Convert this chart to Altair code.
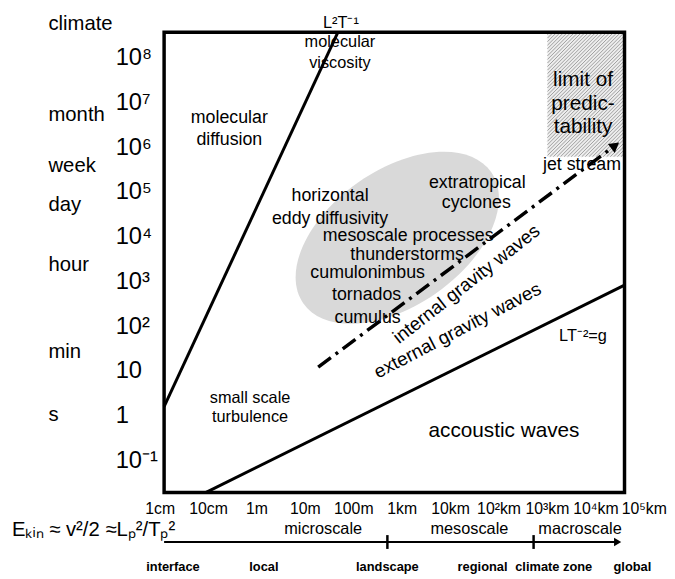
import altair as alt
import pandas as pd

FONT = "Liberation Sans"

# ---------------- data (log10 of length in m, log10 of time in s) ----------------
L_DOMAIN = [-1.918, 7.592]
T_DOMAIN = [-1.706, 8.581]

y_tick_logT = [-1, 0, 1, 2, 3, 4, 5, 6, 7, 8]
y_tick_text = ["10⁻¹", "1", "10", "10²", "10³", "10⁴", "10⁵", "10⁶", "10⁷", "10⁸"]
Y_TICK_L = -2.918

time_names = ["climate", "month", "week", "day", "hour", "min", "s"]
time_logT = [8.757, 6.726, 5.600, 4.717, 3.371, 1.428, 0.015]
TIME_NAME_L = -4.306

x_tick_logL = [-2, -1, 0, 1, 2, 3, 4, 5, 6, 7, 8]
x_tick_text = ["1cm", "10cm", "1m", "10m", "100m", "1km", "10km",
               "10²km", "10³km", "10⁴km", "10⁵km"]
X_TICK_T = -2.082

scale_names = ["microscale", "mesoscale", "macroscale"]
scale_logL = [1.367, 4.388, 6.673]
SCALE_T = -2.523

domain_names = ["interface", "local", "landscape", "regional", "climate zone", "global"]
domain_logL = [-1.735, 0.143, 2.694, 4.66, 6.13, 7.755]
DOMAIN_T = -3.362

axis_arrow_L = [-1.918, 7.45]
AXIS_ARROW_T = -2.810
sep_tick_L = [2.694, 5.714]
sep_tick_T = [-2.656, -2.965]

visc_L = [-1.918, 1.673]
visc_T = [0.214, 8.581]
grav_L = [-1.061, 7.592]
grav_T = [-1.706, 2.929]
jet_L = [1.265, 7.36]
jet_T = [1.097, 6.02]
jet_tip = [7.40, 6.05]

ellipse_L = [2.898]
ellipse_T = [3.989]

limit_L = [6.0, 7.592]
limit_T = [5.799, 8.581]

formula_text = ["Eₖᵢₙ ≈ v²/2 ≈Lₚ²/Tₚ²"]
formula_L = [-5.061]
formula_T = [-2.545]

ann_big_text = ["molecular", "diffusion", "horizontal", "eddy diffusivity",
                "extratropical", "cyclones", "mesoscale processes", "thunderstorms",
                "cumulonimbus", "tornados", "cumulus", "jet stream"]
ann_big_L = [-0.571, -0.571, 1.510, 1.510, 4.551, 4.531, 3.122, 3.102,
             2.286, 2.265, 2.286, 6.714]
ann_big_T = [6.660, 6.174, 4.916, 4.408, 5.203, 4.762, 4.033, 3.592,
             3.194, 2.709, 2.201, 5.623]

ann_small_text = ["L²T⁻¹", "molecular", "viscosity", "small scale", "turbulence", "LT⁻²=g"]
ann_small_L = [1.735, 1.714, 1.714, -0.143, -0.143, 6.735]
ann_small_T = [8.779, 8.360, 7.896, 0.413, -0.029, 1.781]

ann_large_text = ["limit of", "predic-", "tability", "accoustic waves"]
ann_large_L = [6.735, 6.735, 6.735, 5.102]
ann_large_T = [7.521, 6.969, 6.461, -0.338]

internal_text = ["internal gravity waves"]
internal_L = [4.327]
internal_T = [2.951]
external_text = ["external gravity waves"]
external_L = [4.143]
external_T = [1.914]

# ---------------- chart ----------------
W, H = 466, 466
xs = alt.Scale(domain=L_DOMAIN, nice=False, zero=False)
ys = alt.Scale(domain=T_DOMAIN, nice=False, zero=False)
X = alt.X("L:Q", scale=xs, axis=None)
Y = alt.Y("T:Q", scale=ys, axis=None)


def df(**kw):
    return pd.DataFrame(kw)


def texts(frame, size, align="center", angle=0, weight="normal", color="black"):
    kw = dict(fontSize=size, align=align, baseline="middle", font=FONT,
              fontWeight=weight, color=color)
    if angle:
        kw["angle"] = angle
    return alt.Chart(frame).mark_text(**kw).encode(x=X, y=Y, text="t:N")


# hatch pattern for the "limit of predictability" box
px_L = W / (L_DOMAIN[1] - L_DOMAIN[0])
px_T = H / (T_DOMAIN[1] - T_DOMAIN[0])
bw = (limit_L[1] - limit_L[0]) * px_L
bh = (limit_T[1] - limit_T[0]) * px_T
rows = []
c = -bw
while c < bh:
    u0 = max(0.0, -c)
    u1 = min(bw, bh - c)
    if u1 > u0:
        rows.append(dict(L=limit_L[0] + u0 / px_L, T=limit_T[0] + (u0 + c) / px_T,
                         L2=limit_L[0] + u1 / px_L, T2=limit_T[0] + (u1 + c) / px_T))
    c += 3.6
hatch_df = pd.DataFrame(rows)

limit_rect = alt.Chart(df(L=[limit_L[0]], L2=[limit_L[1]], T=[limit_T[0]], T2=[limit_T[1]])).mark_rect(
    color="#ededed").encode(x=X, x2="L2:Q", y=Y, y2="T2:Q")
hatch = alt.Chart(hatch_df).mark_rule(color="#8a8a8a", strokeWidth=0.8).encode(
    x=X, y=Y, x2="L2:Q", y2="T2:Q")

k = 0.5523
r = 68 / 115
kr = k * r
ell_path = (f"M -1 0 C -1 {-kr:.4f} {-k} {-r:.4f} 0 {-r:.4f} "
            f"C {k} {-r:.4f} 1 {-kr:.4f} 1 0 "
            f"C 1 {kr:.4f} {k} {r:.4f} 0 {r:.4f} "
            f"C {-k} {r:.4f} -1 {kr:.4f} -1 0 Z")
ellipse = alt.Chart(df(L=ellipse_L, T=ellipse_T)).mark_point(
    shape=ell_path, filled=True, color="#d9d9d9", opacity=1, size=232 * 232,
    angle=325, strokeWidth=0).encode(x=X, y=Y)

visc = alt.Chart(df(L=visc_L, T=visc_T)).mark_line(color="black", strokeWidth=3).encode(x=X, y=Y)
grav = alt.Chart(df(L=grav_L, T=grav_T)).mark_line(color="black", strokeWidth=3).encode(x=X, y=Y)
jet = alt.Chart(df(L=jet_L, T=jet_T)).mark_line(
    color="black", strokeWidth=3.5, strokeDash=[16, 6, 3, 6], strokeCap="butt").encode(x=X, y=Y)
jet_head = alt.Chart(df(L=[jet_tip[0]], T=[jet_tip[1]])).mark_point(
    shape="triangle-up", filled=True, color="black", opacity=1, size=130, angle=53).encode(x=X, y=Y)

frame = alt.Chart(df(L=[L_DOMAIN[0]], L2=[L_DOMAIN[1]], T=[T_DOMAIN[0]], T2=[T_DOMAIN[1]])).mark_rect(
    filled=False, stroke="black", strokeWidth=3.5).encode(x=X, x2="L2:Q", y=Y, y2="T2:Q")

axis_arrow = alt.Chart(df(L=[axis_arrow_L[0]], L2=[axis_arrow_L[1]], T=[AXIS_ARROW_T])).mark_rule(
    color="black", strokeWidth=2).encode(x=X, x2="L2:Q", y=Y)
axis_head = alt.Chart(df(L=[axis_arrow_L[1]], T=[AXIS_ARROW_T])).mark_point(
    shape="triangle-up", filled=True, color="black", opacity=1, size=70, angle=90).encode(x=X, y=Y)
sep_ticks = alt.Chart(df(L=sep_tick_L, T=[sep_tick_T[0]] * 2, T2=[sep_tick_T[1]] * 2)).mark_rule(
    color="black", strokeWidth=2.5).encode(x=X, y=Y, y2="T2:Q")

layers = [
    limit_rect, hatch, ellipse, visc, grav, jet, jet_head, frame,
    axis_arrow, axis_head, sep_ticks,
    texts(df(t=y_tick_text, L=[Y_TICK_L] * len(y_tick_text), T=y_tick_logT), 24, align="left"),
    texts(df(t=time_names, L=[TIME_NAME_L] * len(time_names), T=time_logT), 20.5, align="left"),
    texts(df(t=x_tick_text, L=x_tick_logL, T=[X_TICK_T] * len(x_tick_text)), 16),
    texts(df(t=scale_names, L=scale_logL, T=[SCALE_T] * len(scale_names)), 16.5),
    texts(df(t=domain_names, L=domain_logL, T=[DOMAIN_T] * len(domain_names)), 13, weight="bold"),
    texts(df(t=formula_text, L=formula_L, T=formula_T), 20.5, align="left"),
    texts(df(t=ann_big_text, L=ann_big_L, T=ann_big_T), 18),
    texts(df(t=ann_small_text, L=ann_small_L, T=ann_small_T), 16.5),
    texts(df(t=ann_large_text, L=ann_large_L, T=ann_large_T), 21),
    texts(df(t=internal_text, L=internal_L, T=internal_T), 19, angle=322),
    texts(df(t=external_text, L=external_L, T=external_T), 19, angle=332.5),
]

chart = alt.layer(*layers).properties(
    width=W, height=H,
    padding={"left": 158, "top": 21, "right": 43, "bottom": 84},
    autosize=alt.AutoSizeParams(type="none"),
    background="white",
).configure_view(stroke=None)

chart.save("out.html", embed_options={"renderer": "svg", "actions": False})
